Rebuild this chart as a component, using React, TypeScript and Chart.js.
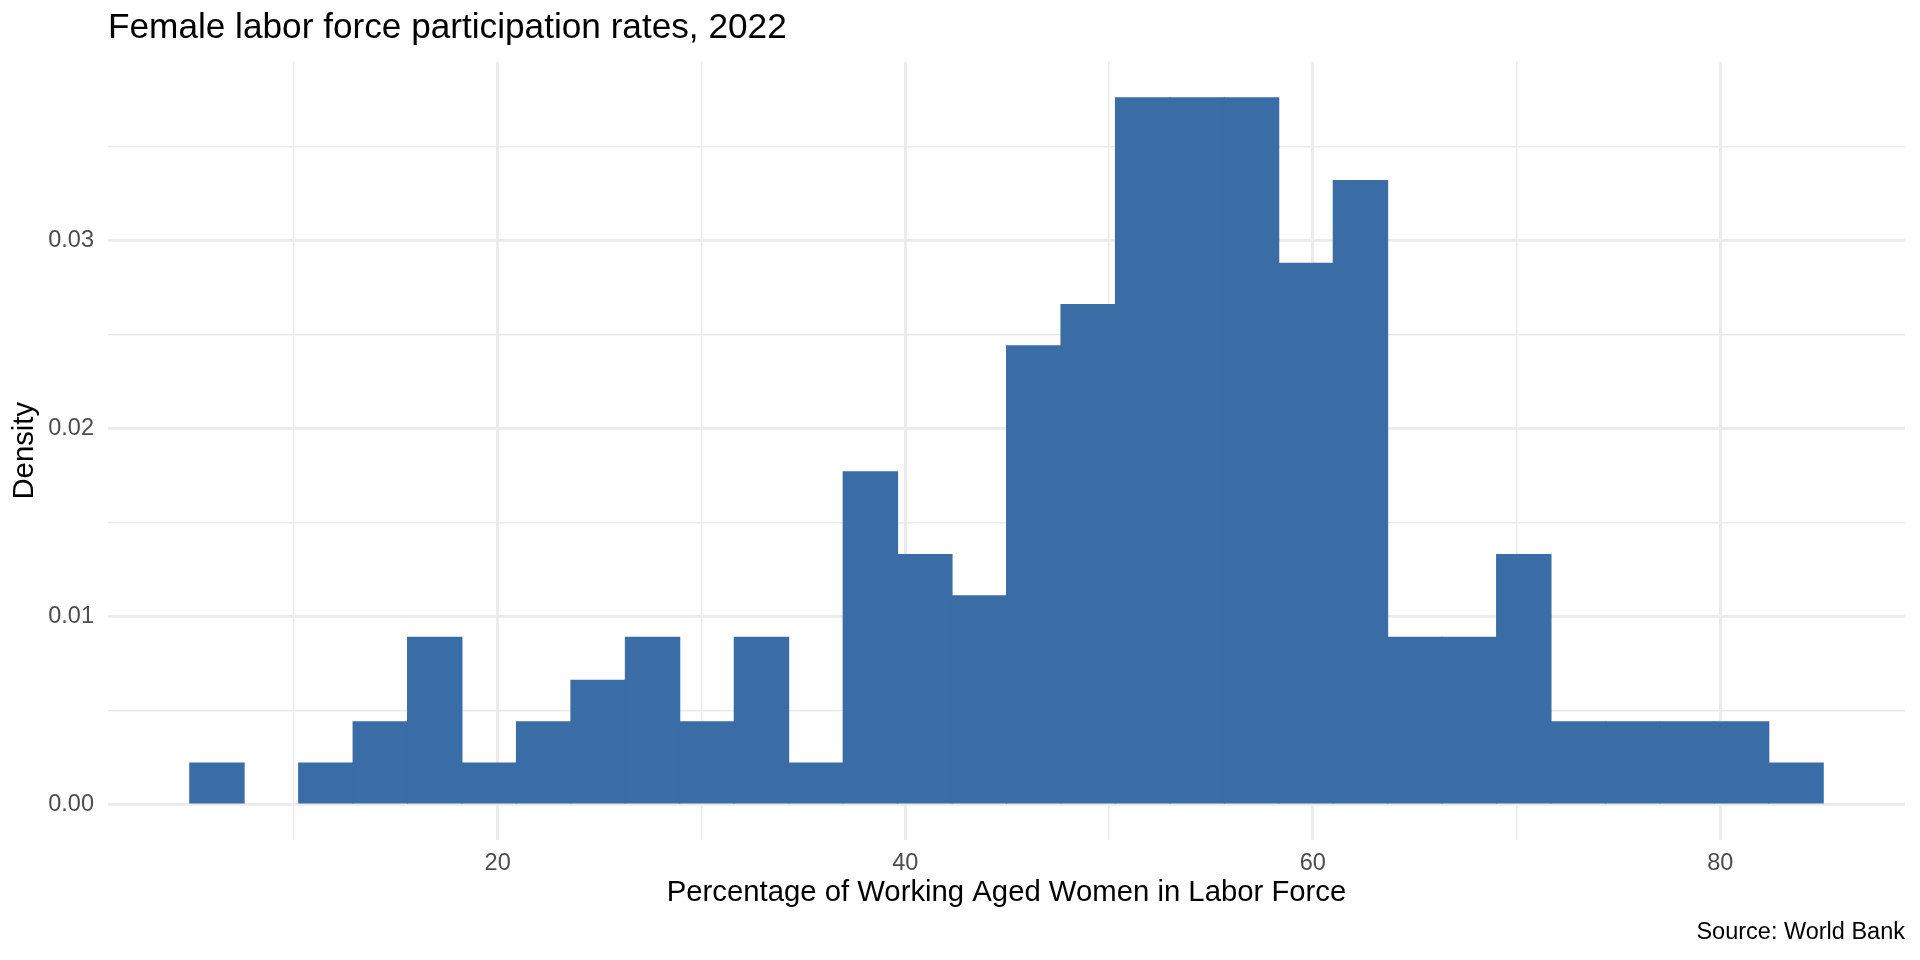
import React, { useEffect, useRef } from 'react';
import { Chart, registerables } from 'chart.js';

Chart.register(...registerables);

// histogram bins (centre of each bin, percent) and their density
const binCenters = [
  6.226, 8.898, 11.570, 14.242, 16.914, 19.586, 22.258, 24.930, 27.602, 30.274,
  32.946, 35.618, 38.290, 40.962, 43.634, 46.306, 48.978, 51.650, 54.322, 56.994,
  59.666, 62.338, 65.010, 67.682, 70.354, 73.026, 75.698, 78.370, 81.042, 83.714,
];
const densities = [
  0.0022, 0, 0.0022, 0.0044, 0.0089, 0.0022, 0.0044, 0.0066, 0.0089, 0.0044,
  0.0089, 0.0022, 0.0177, 0.0133, 0.0111, 0.0244, 0.0266, 0.0376, 0.0376, 0.0376,
  0.0288, 0.0332, 0.0089, 0.0089, 0.0133, 0.0044, 0.0044, 0.0044, 0.0044, 0.0022,
];

// grid positions: major ones get a label, the rest are minor lines
const xGridValues = [10, 20, 30, 40, 50, 60, 70, 80];
const xLabelValues = [20, 40, 60, 80];
const yGridValues = [0, 0.005, 0.01, 0.015, 0.02, 0.025, 0.03, 0.035];
const yLabelValues = [0, 0.01, 0.02, 0.03];

const FONT = "'Liberation Sans', Arial, sans-serif";
const BAR_COLOR = '#3A6DA5';
const GRID_COLOR = '#EBEBEB';

const isMajor = (list: number[], v: number) => list.some((m) => Math.abs(m - v) < 1e-9);

const HistogramChart: React.FC = () => {
  const canvasRef = useRef<HTMLCanvasElement>(null);
  const chartRef = useRef<Chart | null>(null);

  useEffect(() => {
    if (!canvasRef.current) return;
    if (chartRef.current) chartRef.current.destroy();

    chartRef.current = new Chart(canvasRef.current, {
      type: 'bar',
      data: {
        datasets: [{
          data: binCenters.map((x, i) => ({ x, y: densities[i] })),
          backgroundColor: BAR_COLOR,
          borderWidth: 0,
          barPercentage: 1,
          categoryPercentage: 1,
          inflateAmount: (ctx: any) => (ctx.raw && ctx.raw.y === 0 ? 0 : 0.5),
        } as any],
      },
      options: {
        responsive: false,
        devicePixelRatio: 1,
        animation: false,
        events: [],
        layout: { padding: { left: 0, right: 15, top: 0, bottom: 13 } },
        plugins: {
          legend: { display: false },
          tooltip: { enabled: false },
          title: {
            display: true,
            text: 'Female labor force participation rates, 2022',
            align: 'start',
            fullSize: false,
            color: '#000000',
            font: { family: FONT, size: 35.2, weight: 'normal' },
            padding: { top: 6.9, bottom: 12.6 },
          },
          subtitle: {
            display: true,
            text: 'Source: World Bank',
            position: 'bottom',
            align: 'end',
            color: '#000000',
            font: { family: FONT, size: 23.5, weight: 'normal' },
            padding: { top: 8, bottom: 0 },
          },
        },
        scales: {
          x: {
            type: 'linear',
            min: 0.88,
            max: 89.06,
            offset: false,
            afterBuildTicks: (axis: any) => {
              axis.ticks = xGridValues.map((value) => ({ value }));
            },
            afterFit: (axis: any) => {
              axis.height = 71.1;
            },
            grid: {
              offset: false,
              drawTicks: false,
              color: GRID_COLOR,
              lineWidth: (ctx: any) => (ctx.tick && isMajor(xLabelValues, ctx.tick.value) ? 2.85 : 1.42),
            },
            border: { display: false },
            ticks: {
              autoSkip: false,
              maxRotation: 0,
              padding: 9.4,
              color: '#4D4D4D',
              font: { family: FONT, size: 23.5 },
              callback: (value: any) => (isMajor(xLabelValues, Number(value)) ? String(value) : ''),
            },
            title: {
              display: true,
              text: 'Percentage of Working Aged Women in Labor Force',
              color: '#000000',
              font: { family: FONT, size: 29.3 },
              padding: { top: 0, bottom: 0 },
            },
          },
          y: {
            type: 'linear',
            min: -0.00188,
            max: 0.03952,
            afterBuildTicks: (axis: any) => {
              axis.ticks = yGridValues.map((value) => ({ value }));
            },
            afterFit: (axis: any) => {
              axis.width = 108;
            },
            grid: {
              drawTicks: false,
              color: GRID_COLOR,
              lineWidth: (ctx: any) => (ctx.tick && isMajor(yLabelValues, ctx.tick.value) ? 2.85 : 1.42),
            },
            border: { display: false },
            ticks: {
              autoSkip: false,
              padding: 14,
              color: '#4D4D4D',
              font: { family: FONT, size: 23.5 },
              callback: (value: any) => (isMajor(yLabelValues, Number(value)) ? Number(value).toFixed(2) : ''),
            },
            title: {
              display: true,
              text: 'Density',
              color: '#000000',
              font: { family: FONT, size: 29.3 },
              padding: { top: 7.1, bottom: 0 },
            },
          },
        },
      } as any,
    });

    return () => {
      if (chartRef.current) {
        chartRef.current.destroy();
        chartRef.current = null;
      }
    };
  }, []);

  return (
    <div style={{ position: 'absolute', left: 0, top: 0, width: 1920, height: 960, background: '#ffffff' }}>
      <canvas ref={canvasRef} width={1920} height={960} />
    </div>
  );
};

export default function App() {
  return <HistogramChart />;
}
